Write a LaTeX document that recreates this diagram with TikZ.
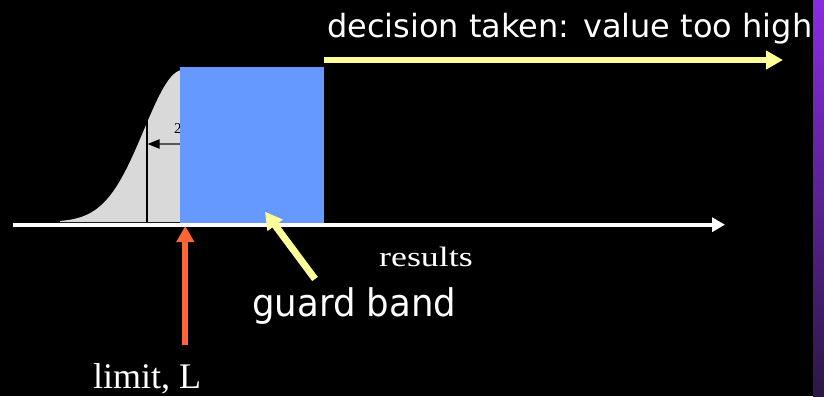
\documentclass[tikz,border=0pt]{standalone}
\usepackage{fontspec}
\usetikzlibrary{arrows.meta}
\newfontfamily\sansfont{DejaVu Sans}
\newfontfamily\seriffont{Liberation Serif}
\definecolor{bandblue}{HTML}{6699FF}
\definecolor{curvegray}{HTML}{D9D9D9}
\definecolor{limitorange}{HTML}{FF6633}
\definecolor{paleyellow}{HTML}{FFFF99}
\definecolor{bartop}{HTML}{8A2BE2}
\definecolor{barbot}{HTML}{2B1845}
\tikzset{
  sanslabel/.style={text=white, inner sep=0pt, anchor=base west},
  seriflabel/.style={text=white, inner sep=0pt, anchor=base west},
  yellowarrow/.style={draw=paleyellow, -{Triangle[length=17pt,width=18pt]}},
}
\begin{document}
\begin{tikzpicture}[x=1pt,y=-1pt]
\useasboundingbox (0,0) rectangle (824,396);
\fill[black] (0,0) rectangle (824,396);
% side bar
\shade[top color=bartop, bottom color=barbot] (813,0) rectangle (824,396);
% gaussian tail
\fill[curvegray] (60,222) -- plot[domain=60:200, samples=90] (\x, {222-152*exp(-0.5*((\x-183)/39)^2)}) -- (200,222) -- cycle;
\coordinate (vtop) at (147,120);
\coordinate (vbot) at (147,222);
\draw[black, line width=1.5pt] (vtop) -- (vbot);
\coordinate (sarrowR) at (180,144);
\coordinate (sarrowL) at (147.5,144);
\draw[draw=black!65, line width=2pt, -{Triangle[length=12pt,width=9pt,color=black]}] (sarrowR) -- (sarrowL);
\node[seriflabel, font=\seriffont\fontsize{15}{15}\selectfont, text=black] (two) at (174,133) {2};
% guard band box
\node[fill=bandblue, inner sep=0pt, minimum width=143.5pt, minimum height=156pt, anchor=north west] (band) at (180,67) {};
% axis
\coordinate (axisL) at (13,224.7);
\coordinate (axisR) at (725,224.7);
\draw[white, line width=4pt, -{Triangle[length=13pt,width=14pt]}] (axisL) -- (axisR);
% labels
\node[sanslabel, font=\sansfont\fontsize{32}{32}\selectfont] (decision) at (327,37.7) {decision taken: value too high};
\node[sanslabel, font=\sansfont\fontsize{38}{38}\selectfont] (guard) at (252,316.7) {\scalebox{0.935}[1]{guard band}};
\node[seriflabel, font=\seriffont\fontsize{28}{28}\selectfont] (results) at (379,266.7) {\scalebox{1.28}[1]{results}};
\node[seriflabel, font=\seriffont\fontsize{36}{36}\selectfont] (limit) at (93,388.3) {limit, L};
% arrows
\coordinate (limtail) at (185.3,345);
\coordinate (limtip) at (185.3,226);
\draw[draw=limitorange, line width=6pt, -{Triangle[length=16pt,width=17pt]}] (limtail) -- (limtip);
\coordinate (gtail) at (315,279);
\coordinate (gtip) at (265,211.7);
\draw[yellowarrow, line width=7pt] (gtail) -- (gtip);
\coordinate (dtail) at (324,60);
\coordinate (dtip) at (783,60);
\draw[yellowarrow, line width=6pt] (dtail) -- (dtip);
\end{tikzpicture}
\end{document}
